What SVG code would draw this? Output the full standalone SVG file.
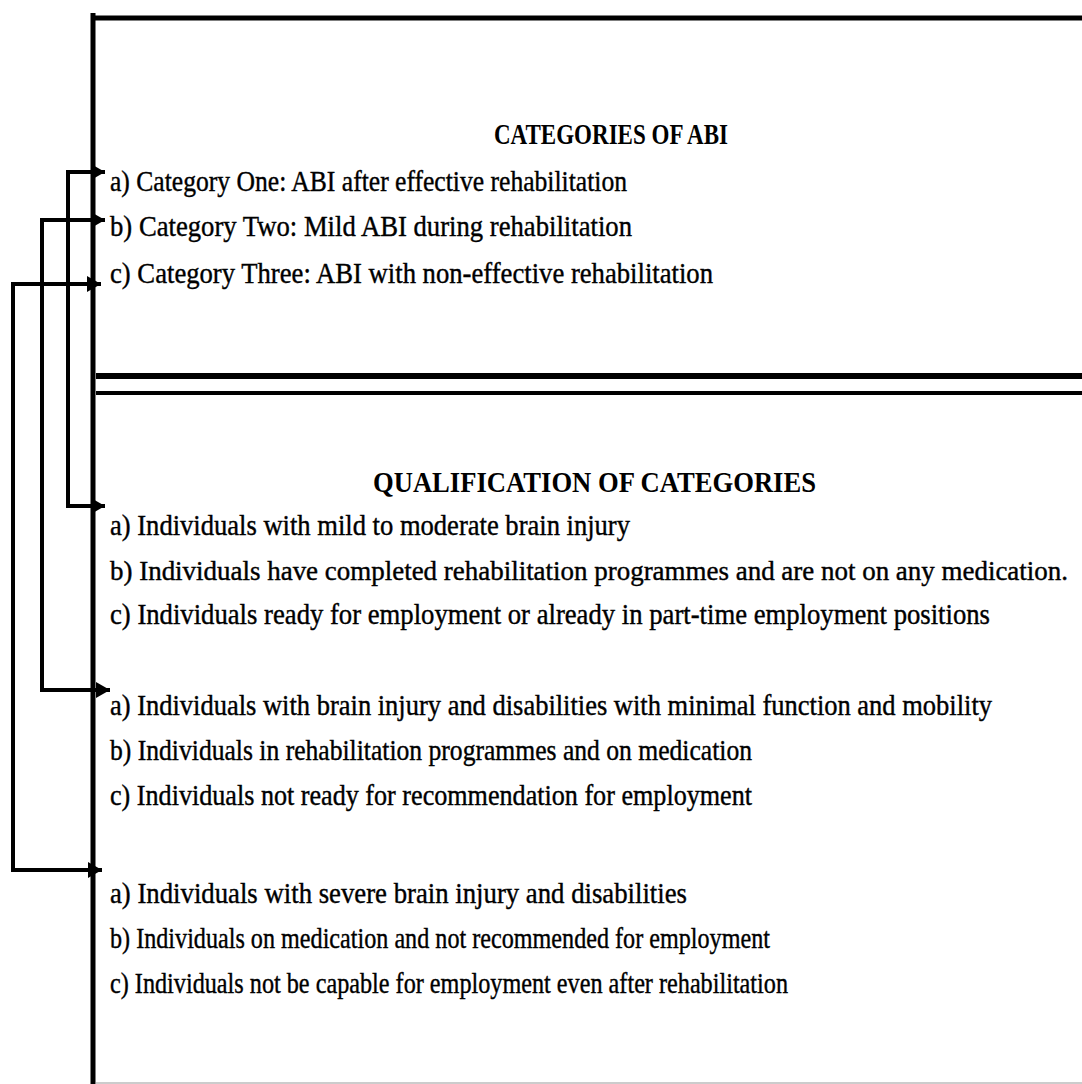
<svg xmlns="http://www.w3.org/2000/svg" width="1082" height="1084" viewBox="0 0 1082 1084">
<defs>
<style>
.frame{stroke:#000;stroke-width:5;fill:none}
.conn{stroke:#000;stroke-width:4;fill:none;marker-start:url(#arrow);marker-end:url(#arrow)}
.t{font-family:"Liberation Serif","Times New Roman",serif;font-size:30px;fill:#000;stroke:#000;stroke-width:0.4}
.h{font-family:"Liberation Serif","Times New Roman",serif;font-size:30px;font-weight:bold;fill:#000}
</style>
<marker id="arrow" markerUnits="userSpaceOnUse" markerWidth="18" markerHeight="18" refX="14" refY="8" orient="0">
<path d="M0,0 L14,8 L0,16 Z" fill="#000"/>
</marker>
</defs>
<rect width="1082" height="1084" fill="#fff"/>
<g id="frame">
<line class="frame" x1="93" y1="13" x2="93" y2="1084"/>
<line class="frame" x1="91" y1="18" x2="1082" y2="18"/>
<line class="frame" x1="96" y1="376" x2="1082" y2="376" style="stroke-width:6"/>
<line class="frame" x1="96" y1="393" x2="1082" y2="393" style="stroke-width:4"/>
<line x1="96" y1="1083" x2="1082" y2="1083" stroke="#ccc" stroke-width="2"/>
</g>
<g id="categories">
<text class="h" x="494" y="144" textLength="234" lengthAdjust="spacingAndGlyphs">CATEGORIES OF ABI</text>
<text class="t" x="110" y="191" textLength="517" lengthAdjust="spacingAndGlyphs">a) Category One: ABI after effective rehabilitation</text>
<text class="t" x="110" y="236" textLength="522" lengthAdjust="spacingAndGlyphs">b) Category Two: Mild ABI during rehabilitation</text>
<text class="t" x="110" y="283" textLength="603" lengthAdjust="spacingAndGlyphs">c) Category Three: ABI with non-effective rehabilitation</text>
</g>
<g id="qualification">
<text class="h" x="373" y="492" textLength="443" lengthAdjust="spacingAndGlyphs">QUALIFICATION OF CATEGORIES</text>
</g>
<g id="qual-one">
<text class="t" x="110" y="535" textLength="520" lengthAdjust="spacingAndGlyphs">a) Individuals with mild to moderate brain injury</text>
<text class="t" x="110" y="580" style="font-size:27px" textLength="958" lengthAdjust="spacingAndGlyphs">b) Individuals have completed rehabilitation programmes and are not on any medication.</text>
<text class="t" x="110" y="624" style="font-size:29px" textLength="880" lengthAdjust="spacingAndGlyphs">c) Individuals ready for employment or already in part-time employment positions</text>
</g>
<g id="qual-two">
<text class="t" x="110" y="715" style="font-size:29px" textLength="882" lengthAdjust="spacingAndGlyphs">a) Individuals with brain injury and disabilities with minimal function and mobility</text>
<text class="t" x="110" y="760" textLength="642" lengthAdjust="spacingAndGlyphs">b) Individuals in rehabilitation programmes and on medication</text>
<text class="t" x="110" y="805" textLength="642" lengthAdjust="spacingAndGlyphs">c) Individuals not ready for recommendation for employment</text>
</g>
<g id="qual-three">
<text class="t" x="110" y="903" textLength="577" lengthAdjust="spacingAndGlyphs">a) Individuals with severe brain injury and disabilities</text>
<text class="t" x="110" y="948" textLength="660" lengthAdjust="spacingAndGlyphs">b) Individuals on medication and not recommended for employment</text>
<text class="t" x="110" y="993" textLength="678" lengthAdjust="spacingAndGlyphs">c) Individuals not be capable for employment even after rehabilitation</text>
</g>
<g id="connectors">
<path class="conn" d="M105,172 H68 V506 H105"/>
<path class="conn" d="M105,220 H42 V690 H110"/>
<path class="conn" d="M101,284 H13 V870 H102"/>
</g>
</svg>
